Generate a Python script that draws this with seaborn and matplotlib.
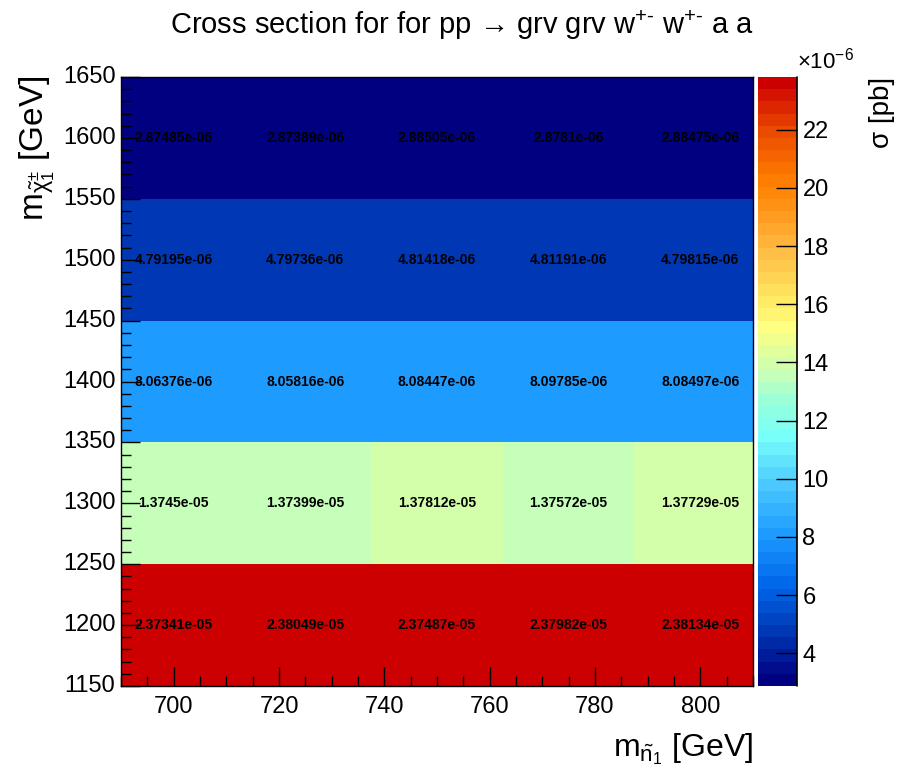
import numpy as np
import pandas as pd
import matplotlib
matplotlib.use('Agg')
import matplotlib.pyplot as plt
from matplotlib.colors import ListedColormap
from matplotlib.ticker import FuncFormatter
import seaborn as sns

# масса нейтралино (ось x) и чарджино (ось y), ГэВ
x_mass = [700, 725, 750, 775, 800]
y_mass = [1200, 1300, 1400, 1500, 1600]

# сечение, pb (строки по y_mass снизу вверх)
xsec_1200 = [2.37341e-05, 2.38049e-05, 2.37487e-05, 2.37982e-05, 2.38134e-05]
xsec_1300 = [1.3745e-05, 1.37399e-05, 1.37812e-05, 1.37572e-05, 1.37729e-05]
xsec_1400 = [8.06376e-06, 8.05816e-06, 8.08447e-06, 8.09785e-06, 8.08497e-06]
xsec_1500 = [4.79195e-06, 4.79736e-06, 4.81418e-06, 4.81191e-06, 4.79815e-06]
xsec_1600 = [2.87485e-06, 2.87389e-06, 2.88505e-06, 2.8781e-06, 2.88475e-06]

cbar_ticks = [4, 6, 8, 10, 12, 14, 16, 18, 20, 22]

sns.set_style('white')
plt.rcParams['font.family'] = ['Liberation Sans', 'DejaVu Sans']
plt.rcParams['mathtext.fontset'] = 'custom'
plt.rcParams['mathtext.rm'] = 'Liberation Sans'
plt.rcParams['mathtext.it'] = 'Liberation Sans'
plt.rcParams['mathtext.bf'] = 'Liberation Sans:bold'
plt.rcParams['text.color'] = 'black'

df = pd.DataFrame([xsec_1200, xsec_1300, xsec_1400, xsec_1500, xsec_1600],
                  index=y_mass, columns=x_mass)

# палитра в стиле ROOT, 50 уровней
anchors = [
    (0, (0, 0, 128)), (4, (0, 55, 180)), (8, (0, 105, 235)),
    (12, (30, 155, 255)), (16, (75, 200, 255)), (20, (120, 255, 250)),
    (23, (155, 255, 215)), (25, (197, 255, 185)), (26, (212, 255, 170)),
    (29, (255, 255, 130)), (31, (255, 235, 100)), (35, (255, 190, 70)),
    (39, (255, 145, 20)), (41, (255, 125, 0)), (45, (235, 75, 0)),
    (49, (204, 0, 0)),
]
idx = [a[0] for a in anchors]
cols = np.array([a[1] for a in anchors]) / 255.0
steps = np.arange(50)
palette = np.column_stack([np.interp(steps, idx, cols[:, k]) for k in range(3)])
cmap = ListedColormap(palette)

fig = plt.figure(figsize=(9.06, 7.81), dpi=100)
ax = fig.add_axes([0.1336, 0.1216, 0.6975, 0.7798])
cax = fig.add_axes([0.8366, 0.1216, 0.043, 0.7798])

vmin = df.values.min()
vmax = df.values.max()
sns.heatmap(df, ax=ax, cbar_ax=cax, cmap=cmap, vmin=vmin, vmax=vmax,
            annot=True, fmt='g',
            annot_kws={'fontsize': 10, 'fontweight': 'bold', 'color': 'black'})

# перевод ГэВ в координаты ячеек
dx = x_mass[1] - x_mass[0]
dy = y_mass[1] - y_mass[0]
x0 = x_mass[0] - dx / 2
y0 = y_mass[0] - dy / 2
xu = lambda v: (v - x0) / dx
yu = lambda v: (v - y0) / dy

ax.set_xlim(xu(690), xu(810))
ax.set_ylim(yu(1150), yu(1650))
ax.set_axisbelow(False)

ax.set_xticks([xu(v) for v in range(700, 801, 20)])
ax.set_xticklabels([str(v) for v in range(700, 801, 20)], rotation=0)
ax.set_xticks([xu(v) for v in range(690, 811, 5)], minor=True)
ax.set_yticks([yu(v) for v in range(1150, 1651, 50)])
ax.set_yticklabels([str(v) for v in range(1150, 1651, 50)], rotation=0)
ax.set_yticks([yu(v) for v in range(1150, 1651, 10)], minor=True)
ax.tick_params(which='both', direction='in', labelsize=17, color='black',
               labelcolor='black', left=True, bottom=True, top=False, right=False)
ax.tick_params(which='major', length=13.5, width=1)
ax.tick_params(which='minor', length=7, width=1)
ax.tick_params(axis='y', pad=4)
ax.tick_params(axis='x', pad=7)
ax.set_xlabel('')
ax.set_ylabel('')
for s in ax.spines.values():
    s.set_visible(True)
    s.set_color('black')
    s.set_linewidth(1)

cbar = ax.collections[0].colorbar
cbar.outline.set_visible(False)
cbar.ax.set_axisbelow(False)
cbar.set_ticks([t * 1e-6 for t in cbar_ticks])
cbar.ax.yaxis.set_major_formatter(FuncFormatter(lambda v, p: f'{v * 1e6:g}'))
cbar.ax.tick_params(direction='in', length=15, width=1, labelsize=17, pad=4,
                    color='black', labelcolor='black', right=True, left=False)
cbar.ax.minorticks_off()
cbar.ax.axvline(1, color='black', linewidth=1.2, clip_on=False)
cbar.ax.text(1.0, 1.005, r'$\times10^{-6}$', transform=cbar.ax.transAxes,
             ha='left', va='bottom', fontsize=16)

fig.text(0.51, 0.968,
         'Cross section for for pp \u2192 grv grv w$^{+\\text{-}}$ w$^{+\\text{-}}$ a a',
         ha='center', va='center', fontsize=21)
fig.text(0.831, 0.031, r'$\mathrm{m}_{\tilde{\mathrm{n}}_{1}}$ [GeV]',
         ha='right', va='baseline', fontsize=23)
fig.text(0.041, 0.904, r'$\mathrm{m}_{\tilde{\chi}^{\pm}_{1}}$ [GeV]',
         rotation=90, ha='center', va='top', fontsize=24)
fig.text(0.9735, 0.9014, '\u03c3 [pb]', rotation=90, ha='center', va='top',
         fontsize=20)

plt.savefig('out.png', dpi=100)
plt.close()
